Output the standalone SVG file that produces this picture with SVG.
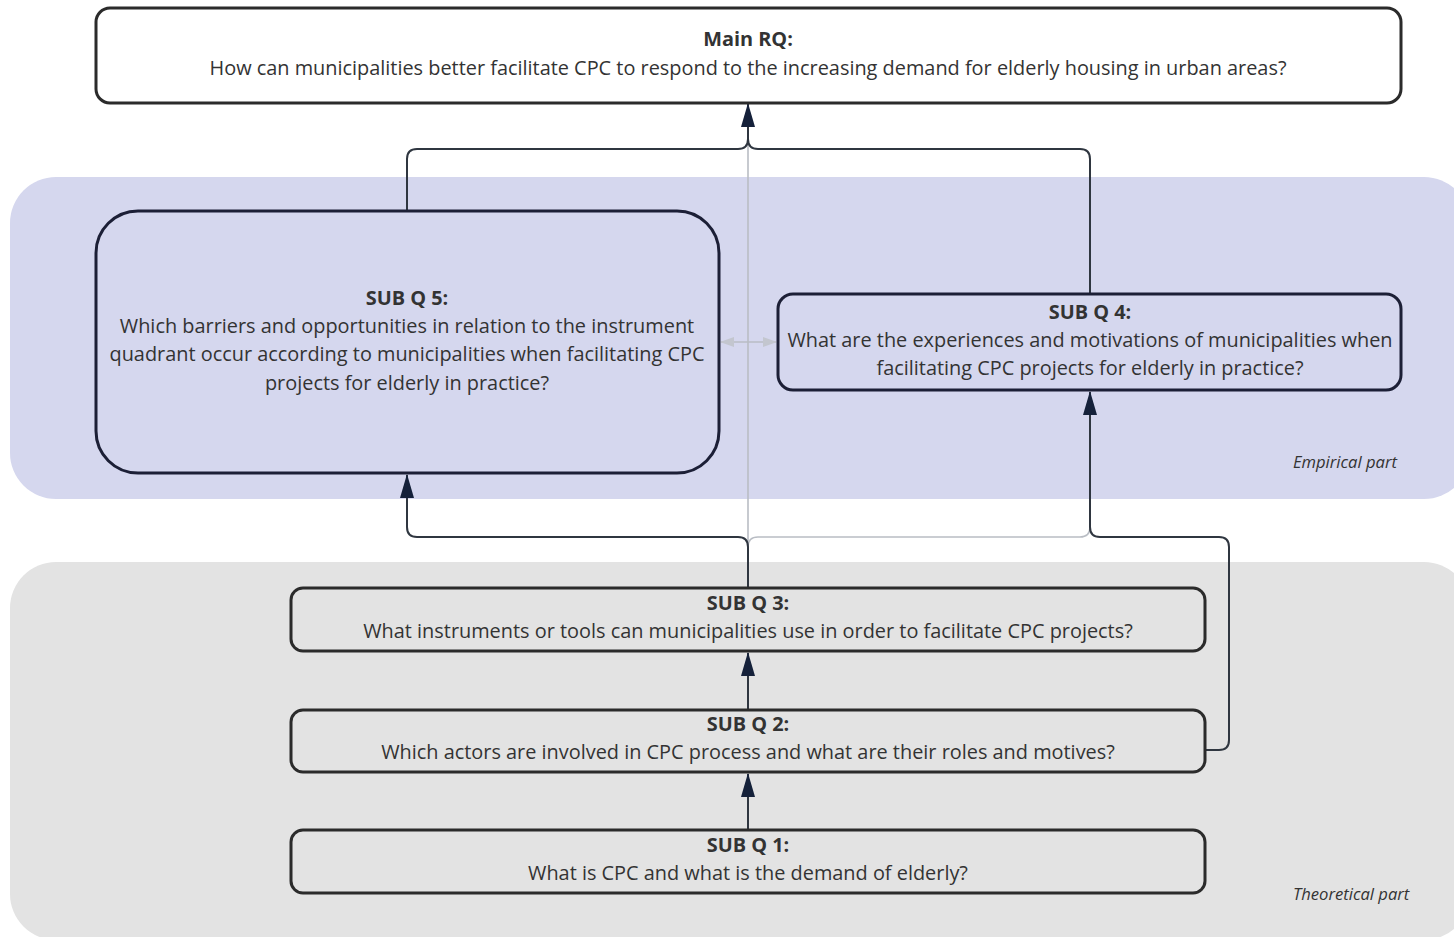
<svg xmlns="http://www.w3.org/2000/svg" width="1454" height="937" viewBox="0 0 1454 937">
  <style>
    .txt { font-family: "Open Sans", "Noto Sans", "Liberation Sans", sans-serif; font-size: 19.9px; fill: #333333; text-anchor: middle; }
    .b { font-weight: bold; }
    .note { font-family: "Open Sans", "Noto Sans", "Liberation Sans", sans-serif; font-size: 16.6px; font-style: italic; fill: #333333; }
    .box { fill: #ffffff; stroke: #2b2b2b; stroke-width: 3; }
    .theo { fill: #e3e3e3; stroke: #2b2b2b; stroke-width: 3; }
    .emp { fill: #d5d7ee; stroke: #1c1f36; stroke-width: 3; }
    .dark { fill: none; stroke: #2f3640; stroke-width: 2; }
    .light { fill: none; stroke: #b9bdc4; stroke-width: 1.6; }
  </style>
  <defs>
    <marker id="arrow" viewBox="0 0 24 14" refX="23" refY="7" markerWidth="24" markerHeight="14" markerUnits="userSpaceOnUse" orient="auto">
      <path d="M0,0 L24,7 L0,14 Z" fill="#15213a"/>
    </marker>
    <marker id="arrowLight" viewBox="0 0 14 10" refX="13" refY="5" markerWidth="14" markerHeight="10" markerUnits="userSpaceOnUse" orient="auto-start-reverse">
      <path d="M0,0 L14,5 L0,10 Z" fill="#c3c6cf"/>
    </marker>
  </defs>

  <!-- section backgrounds -->
  <g id="empirical-part">
    <rect x="10" y="177" width="1460" height="322" rx="46" fill="#d5d7ee"/>
    <text class="note" x="1293" y="468">Empirical part</text>
  </g>
  <g id="theoretical-part">
    <rect x="10" y="562" width="1460" height="378" rx="46" fill="#e3e3e3"/>
    <text class="note" x="1293" y="900">Theoretical part</text>
  </g>

  <!-- connectors -->
  <g id="connectors">
    <!-- light links -->
    <path class="light" d="M748,588 V106"/>
    <path class="light" d="M748,588 V547 Q748,537 758,537 H1080 Q1090,537 1090,527"/>
    <path class="light" d="M721,342 H776" marker-start="url(#arrowLight)" marker-end="url(#arrowLight)"/>
    <!-- dark links -->
    <path class="dark" d="M407,211 V159 Q407,149 417,149 H738 Q748,149 748,139 V104" marker-end="url(#arrow)"/>
    <path class="dark" d="M1090,294 V159 Q1090,149 1080,149 H758 Q748,149 748,139"/>
    <path class="dark" d="M748,588 V547 Q748,537 738,537 H417 Q407,537 407,527 V475" marker-end="url(#arrow)"/>
    <path class="dark" d="M1205,750 H1219 Q1229,750 1229,740 V547 Q1229,537 1219,537 H1100 Q1090,537 1090,527 V392" marker-end="url(#arrow)"/>
    <path class="dark" d="M748,710 V653" marker-end="url(#arrow)"/>
    <path class="dark" d="M748,830 V774" marker-end="url(#arrow)"/>
  </g>

  <!-- main research question -->
  <g id="main-rq">
    <rect class="box" x="96" y="8" width="1305" height="95" rx="14"/>
    <text class="txt b" x="748" y="46">Main RQ:</text>
    <text class="txt" x="748" y="75">How can municipalities better facilitate CPC to respond to the increasing demand for elderly housing in urban areas?</text>
  </g>

  <g id="subq5">
    <rect class="emp" x="96" y="211" width="623" height="262" rx="42"/>
    <text class="txt b" x="407" y="305">SUB Q 5:</text>
    <text class="txt" x="407" y="333">Which barriers and opportunities in relation to the instrument</text>
    <text class="txt" x="407" y="361">quadrant occur according to municipalities when facilitating CPC</text>
    <text class="txt" x="407" y="390">projects for elderly in practice?</text>
  </g>

  <g id="subq4">
    <rect class="emp" x="778" y="294" width="623" height="96" rx="15"/>
    <text class="txt b" x="1090" y="319">SUB Q 4:</text>
    <text class="txt" x="1090" y="347">What are the experiences and motivations of municipalities when</text>
    <text class="txt" x="1090" y="375">facilitating CPC projects for elderly in practice?</text>
  </g>

  <g id="subq3">
    <rect class="theo" x="291" y="588" width="914" height="63" rx="12"/>
    <text class="txt b" x="748" y="610">SUB Q 3:</text>
    <text class="txt" x="748" y="638">What instruments or tools can municipalities use in order to facilitate CPC projects?</text>
  </g>

  <g id="subq2">
    <rect class="theo" x="291" y="710" width="914" height="62" rx="12"/>
    <text class="txt b" x="748" y="731">SUB Q 2:</text>
    <text class="txt" x="748" y="759">Which actors are involved in CPC process and what are their roles and motives?</text>
  </g>

  <g id="subq1">
    <rect class="theo" x="291" y="830" width="914" height="63" rx="12"/>
    <text class="txt b" x="748" y="852">SUB Q 1:</text>
    <text class="txt" x="748" y="880">What is CPC and what is the demand of elderly?</text>
  </g>
</svg>
